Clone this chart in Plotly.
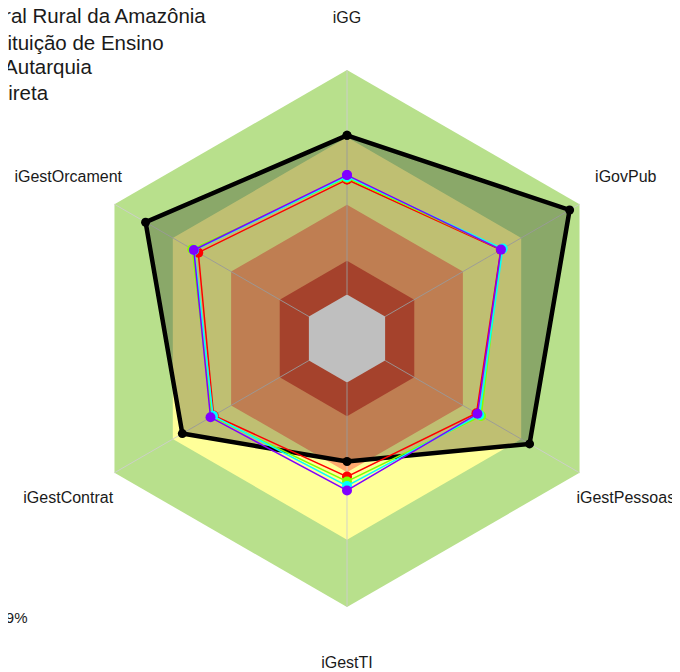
import plotly.graph_objects as go

# ---------------- data ----------------
CATEGORIES = ["iGG", "iGovPub", "iGestPessoas", "iGestTI", "iGestContrat", "iGestOrcament"]

# band limits (TCU levels) and colours
BAND_LIMITS = [1.0, 0.70, 0.40, 0.15, 0.0]
BAND_COLORS = ["#b8e08c", "#ffff99", "#ffa86e", "#dd583b", "#ffffff"]

SERIES_NAMES = [
    "Universidade Federal Rural da Amazônia",
    "Média - Grupo: Instituição de Ensino",
    "Média – Natureza: Autarquia",
    "Média – Esfera:\u2009Indireta",
    "Média - Geral",
]
UFRA = [0.709, 0.949, 0.743, 0.352, 0.651, 0.840]
INST_ENSINO = [0.512, 0.595, 0.470, 0.419, 0.490, 0.569]
AUTARQUIA = [0.520, 0.598, 0.494, 0.441, 0.500, 0.600]
INDIRETA = [0.525, 0.605, 0.485, 0.461, 0.493, 0.590]
GERAL = [0.532, 0.596, 0.475, 0.481, 0.506, 0.592]
SERIES_VALUES = [UFRA, INST_ENSINO, AUTARQUIA, INDIRETA, GERAL]
SERIES_COLORS = ["#000000", "#FF0000", "#80FF00", "#00FFFF", "#8000FF"]

ANNOTATION_TEXT = "iGG: 70,9%"

# ---------------- geometry ----------------
W, H = 680, 672
R_MIN = -0.196           # radial value at the centre (leaves the grey core)
R_MAX = 1.26             # radial axis maximum (room for the labels)
LABEL_RADII = [1.226, 1.238, 1.238, 1.256, 1.238, 1.238]   # label placement
R_ONE_PX = 268.5         # pixel radius of value 1.0
CX, CY = 339, 330.5      # centre in figure pixels (from top-left)
R_AXIS_PX = R_ONE_PX * (R_MAX - R_MIN) / (1.0 - R_MIN)
dom_x = [(CX - R_AXIS_PX) / W, (CX + R_AXIS_PX) / W]
cy_b = H - CY
dom_y = [(cy_b - R_AXIS_PX) / H, (cy_b + R_AXIS_PX) / H]

theta_closed = CATEGORIES + [CATEGORIES[0]]
fig = go.Figure()

# background bands
for lim, col in zip(BAND_LIMITS, BAND_COLORS):
    fig.add_trace(go.Scatterpolar(
        r=[lim] * len(theta_closed), theta=theta_closed,
        mode="lines", fill="toself", fillcolor=col,
        line=dict(width=0, color=col), showlegend=False, hoverinfo="skip"))

# spokes
spoke_r, spoke_t = [], []
for c in CATEGORIES:
    spoke_r += [0, 1, None]
    spoke_t += [c, c, None]
fig.add_trace(go.Scatterpolar(
    r=spoke_r, theta=spoke_t, mode="lines", connectgaps=False,
    line=dict(color="rgba(205,205,205,0.9)", width=1),
    showlegend=False, hoverinfo="skip"))

legend_tops_px = [-12.8, 13.8, 38.5, 63.8, 89.1]
for i, (name, vals, col) in enumerate(zip(SERIES_NAMES, SERIES_VALUES, SERIES_COLORS)):
    is_main = i == 0
    fig.add_trace(go.Scatterpolar(
        r=vals + [vals[0]], theta=theta_closed, name=name,
        mode="lines+markers",
        fill="toself" if is_main else None,
        fillcolor="rgba(0,0,0,0.25)" if is_main else None,
        line=dict(color=col, width=4.5 if is_main else 1.5),
        marker=dict(color=col, size=9 if is_main else 10),
        legend="legend" if i == 0 else f"legend{i + 1}"))

# category labels, centred on each spoke
fig.add_trace(go.Scatterpolar(
    r=LABEL_RADII, theta=CATEGORIES, text=CATEGORIES,
    mode="text", textposition="middle center", cliponaxis=False,
    textfont=dict(size=16, color="#1a1a1a"), showlegend=False, hoverinfo="skip"))

legend_common = dict(x=-216 / W, xanchor="left", yanchor="top",
                     font=dict(size=20.5, color="#1a1a1a"),
                     bgcolor="rgba(0,0,0,0)")
legends = {}
for i, top in enumerate(legend_tops_px):
    key = "legend" if i == 0 else f"legend{i + 1}"
    legends[key] = dict(legend_common, y=1 - top / H)

fig.update_layout(
    width=W, height=H,
    margin=dict(l=0, r=0, t=0, b=0, autoexpand=False),
    paper_bgcolor="white",
    font=dict(family="Arial, Liberation Sans, sans-serif", color="#1a1a1a"),
    polar=dict(
        domain=dict(x=dom_x, y=dom_y),
        gridshape="linear",
        bgcolor="rgba(0,0,0,0)",
        radialaxis=dict(range=[R_MIN, R_MAX], visible=False),
        angularaxis=dict(
            direction="clockwise", rotation=90,
            showline=False, showgrid=False, showticklabels=False, ticks="",
        ),
    ),
    annotations=[dict(text=ANNOTATION_TEXT, x=-60 / W, y=1 - 609 / H,
                      xref="paper", yref="paper", xanchor="left", yanchor="middle",
                      showarrow=False, font=dict(size=15, color="#1a1a1a"))],
    **legends,
)

fig.write_html("out.html")
